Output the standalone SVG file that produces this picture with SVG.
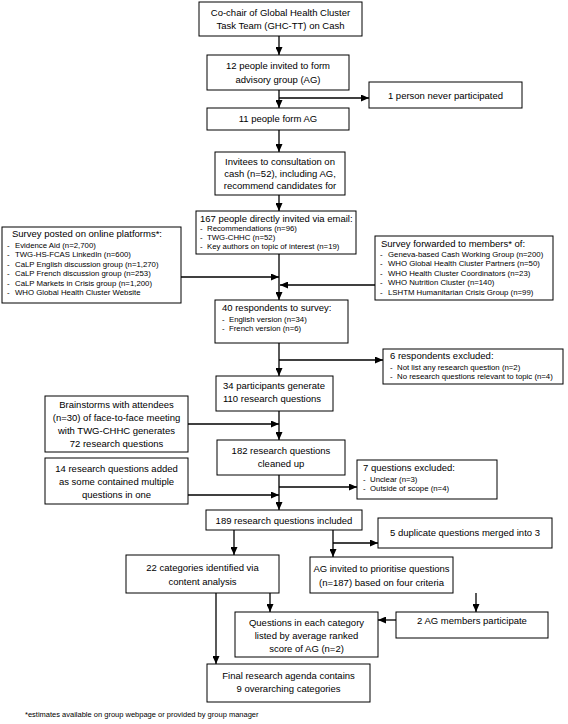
<svg xmlns="http://www.w3.org/2000/svg" width="568" height="724" viewBox="0 0 568 724">
<style>
text{font-family:"Liberation Sans",Arial,sans-serif;font-size:9.5px;fill:#000}
.c{text-anchor:middle}
.b{font-size:7.8px}
.f{font-size:7.5px}
rect{fill:#fff;stroke:#000;stroke-width:1}
#connectors line{stroke:#000;stroke-width:1.3}
.a{marker-end:url(#ah)}
</style>
<defs>
<marker id="ah" markerUnits="userSpaceOnUse" markerWidth="8" markerHeight="7" refX="8" refY="3.5" orient="auto">
<path d="M0,0 L8,3.5 L0,7 z" fill="#000"/>
</marker>
</defs>
<rect x="0" y="0" width="568" height="724" style="stroke:none"/>
<g id="connectors">
<line class="a" x1="279" y1="36" x2="279" y2="55"/>
<line class="a" x1="279" y1="90" x2="279" y2="108"/>
<line class="a" x1="279" y1="98" x2="369" y2="98"/>
<line class="a" x1="279" y1="130" x2="279" y2="152"/>
<line class="a" x1="279" y1="195" x2="279" y2="211"/>
<line class="a" x1="279" y1="254" x2="279" y2="300"/>
<line class="a" x1="181" y1="277" x2="279" y2="277"/>
<line class="a" x1="375" y1="285" x2="280" y2="285"/>
<line class="a" x1="279" y1="343" x2="279" y2="376"/>
<line class="a" x1="279" y1="360" x2="383" y2="360"/>
<line class="a" x1="188" y1="424" x2="279" y2="424"/>
<line class="a" x1="279" y1="411" x2="279" y2="440"/>
<line class="a" x1="279" y1="475" x2="279" y2="510"/>
<line class="a" x1="279" y1="487" x2="357" y2="487"/>
<line class="a" x1="188" y1="495" x2="279" y2="495"/>
<line class="a" x1="234" y1="530" x2="234" y2="555"/>
<line class="a" x1="333" y1="530" x2="333" y2="557"/>
<line class="a" x1="333" y1="543" x2="378" y2="543"/>
<line class="a" x1="270" y1="593" x2="270" y2="612"/>
<line class="a" x1="216" y1="593" x2="216" y2="664"/>
<line class="a" x1="476" y1="593" x2="476" y2="612"/>
<line class="a" x1="396" y1="620" x2="378" y2="620"/>
</g>
<g id="n1"><rect x="199" y="2" width="163" height="34"/>
<text class="c" x="280.5" y="16">Co-chair of Global Health Cluster</text>
<text class="c" x="280.5" y="28.5">Task Team (GHC-TT) on Cash</text></g>
<g id="n2"><rect x="207" y="55" width="142" height="35"/>
<text class="c" x="278" y="68.5">12 people invited to form</text>
<text class="c" x="278" y="82.5">advisory group (AG)</text></g>
<g id="n3"><rect x="369" y="82" width="153" height="26"/>
<text class="c" x="445.5" y="98.5">1 person never participated</text></g>
<g id="n4"><rect x="207" y="108" width="142" height="22"/>
<text class="c" x="278" y="122">11 people form AG</text></g>
<g id="n5"><rect x="215" y="152" width="130" height="43"/>
<text class="c" x="280" y="165">Invitees to consultation on</text>
<text class="c" x="280" y="177">cash (n=52), including AG,</text>
<text class="c" x="280" y="189">recommend candidates for</text></g>
<g id="n6"><rect x="196" y="211" width="160" height="43"/>
<text x="200" y="221.5">167 people directly invited via email:</text>
<text class="b"><tspan x="200" y="231">-</tspan><tspan x="207">Recommendations (n=96)</tspan></text>
<text class="b"><tspan x="200" y="240">-</tspan><tspan x="207">TWG-CHHC (n=52)</tspan></text>
<text class="b"><tspan x="200" y="249">-</tspan><tspan x="207">Key authors on topic of interest (n=19)</tspan></text></g>
<g id="n7"><rect x="2" y="227" width="179" height="76"/>
<text x="12" y="237">Survey posted on online platforms*:</text>
<text class="b"><tspan x="7" y="247.5">-</tspan><tspan x="15">Evidence Aid (n=2,700)</tspan></text>
<text class="b"><tspan x="7" y="257">-</tspan><tspan x="15">TWG-HS-FCAS LinkedIn (n=600)</tspan></text>
<text class="b"><tspan x="7" y="266.5">-</tspan><tspan x="15">CaLP English discussion group (n=1,270)</tspan></text>
<text class="b"><tspan x="7" y="276">-</tspan><tspan x="15">CaLP French discussion group (n=253)</tspan></text>
<text class="b"><tspan x="7" y="285.5">-</tspan><tspan x="15">CaLP Markets in Crisis group (n=1,200)</tspan></text>
<text class="b"><tspan x="7" y="295">-</tspan><tspan x="15">WHO Global Health Cluster Website</tspan></text></g>
<g id="n8"><rect x="375" y="236" width="178" height="64"/>
<text x="381" y="246.5">Survey forwarded to members* of:</text>
<text class="b"><tspan x="380" y="256.5">-</tspan><tspan x="388">Geneva-based Cash Working Group (n=200)</tspan></text>
<text class="b"><tspan x="380" y="266">-</tspan><tspan x="388">WHO Global Health Cluster Partners (n=50)</tspan></text>
<text class="b"><tspan x="380" y="275.5">-</tspan><tspan x="388">WHO Health Cluster Coordinators (n=23)</tspan></text>
<text class="b"><tspan x="380" y="285">-</tspan><tspan x="388">WHO Nutrition Cluster (n=140)</tspan></text>
<text class="b"><tspan x="380" y="294.5">-</tspan><tspan x="388">LSHTM Humanitarian Crisis Group (n=99)</tspan></text></g>
<g id="n9"><rect x="215" y="300" width="133" height="43"/>
<text x="222" y="311">40 respondents to survey:</text>
<text class="b"><tspan x="222" y="321.5">-</tspan><tspan x="229">English version (n=34)</tspan></text>
<text class="b"><tspan x="222" y="331">-</tspan><tspan x="229">French version (n=6)</tspan></text></g>
<g id="n10"><rect x="383" y="349" width="180" height="35"/>
<text x="390" y="359">6 respondents excluded:</text>
<text class="b"><tspan x="390" y="369.5">-</tspan><tspan x="397">Not list any research question (n=2)</tspan></text>
<text class="b"><tspan x="390" y="379">-</tspan><tspan x="397">No research questions relevant to topic (n=4)</tspan></text></g>
<g id="n11"><rect x="216" y="376" width="117" height="35"/>
<text x="223" y="389">34 participants generate</text>
<text x="223" y="402">110 research questions</text></g>
<g id="n12"><rect x="45" y="396" width="143" height="56"/>
<text class="c" x="116.5" y="408">Brainstorms with attendees</text>
<text class="c" x="116.5" y="421">(n=30) of face-to-face meeting</text>
<text class="c" x="116.5" y="434">with TWG-CHHC generates</text>
<text class="c" x="116.5" y="447">72 research questions</text></g>
<g id="n13"><rect x="217" y="440" width="128" height="35"/>
<text class="c" x="281" y="454">182 research questions</text>
<text class="c" x="281" y="467">cleaned up</text></g>
<g id="n14"><rect x="45" y="458" width="143" height="46"/>
<text class="c" x="116.5" y="472">14 research questions added</text>
<text class="c" x="116.5" y="485">as some contained multiple</text>
<text class="c" x="116.5" y="498">questions in one</text></g>
<g id="n15"><rect x="357" y="460" width="140" height="39"/>
<text x="363" y="471">7 questions excluded:</text>
<text class="b"><tspan x="363" y="481.5">-</tspan><tspan x="370">Unclear (n=3)</tspan></text>
<text class="b"><tspan x="363" y="491">-</tspan><tspan x="370">Outside of scope (n=4)</tspan></text></g>
<g id="n16"><rect x="206" y="510" width="156" height="20"/>
<text class="c" x="284" y="523.5">189 research questions included</text></g>
<g id="n17"><rect x="378" y="518" width="174" height="30"/>
<text class="c" x="465" y="535.5">5 duplicate questions merged into 3</text></g>
<g id="n18"><rect x="126" y="555" width="153" height="38"/>
<text class="c" x="202.5" y="571">22 categories identified via</text>
<text class="c" x="202.5" y="585">content analysis</text></g>
<g id="n19"><rect x="310" y="557" width="143" height="36"/>
<text class="c" x="381.5" y="571.5">AG invited to prioritise questions</text>
<text class="c" x="381.5" y="585.5">(n=187) based on four criteria</text></g>
<g id="n20"><rect x="235" y="612" width="143" height="45"/>
<text class="c" x="306.5" y="625.5">Questions in each category</text>
<text class="c" x="306.5" y="638.5">listed by average ranked</text>
<text class="c" x="306.5" y="651.5">score of AG (n=2)</text></g>
<g id="n21"><rect x="396" y="612" width="152" height="26"/>
<text class="c" x="472" y="624">2 AG members participate</text></g>
<g id="n22"><rect x="207" y="664" width="163" height="38"/>
<text class="c" x="288.5" y="678.5">Final research agenda contains</text>
<text class="c" x="288.5" y="692">9 overarching categories</text></g>
<text class="f" x="25" y="717">*estimates available on group webpage or provided by group manager</text>
</svg>
